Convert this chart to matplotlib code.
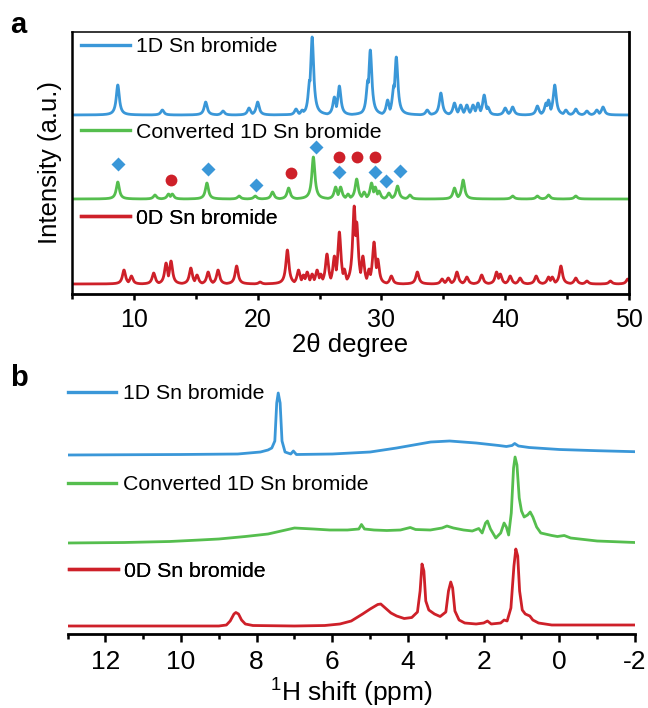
import numpy as np
import matplotlib.pyplot as plt
from matplotlib.lines import Line2D
from matplotlib.ticker import MultipleLocator

plt.rcParams['font.family'] = ['Liberation Sans', 'DejaVu Sans']
plt.rcParams['mathtext.fontset'] = 'custom'
plt.rcParams['mathtext.rm'] = 'Liberation Sans'
plt.rcParams['axes.unicode_minus'] = False

BLUE = '#3A97D8'
GREEN = '#55BE4E'
RED = '#CE2029'

# ===== (a) XRD: peak positions (2theta) and heights =====
BLUE_POS = [8.7, 12.3, 15.8, 17.2, 19.3, 20.0, 23.1, 23.6, 24.2, 24.4, 26.2, 26.6,
            28.9, 29.1, 30.5, 31.0, 31.2, 33.7, 34.8, 35.9, 36.4, 36.9, 37.4, 37.8,
            38.3, 38.6, 40.0, 40.6, 42.6, 43.3, 43.5, 44.0, 44.9, 45.7, 46.6, 47.4, 47.9]
BLUE_H = [30, 5, 13, 4, 7, 13, 6, 5, 35, 78, 18, 29,
          35, 65, 15, 30, 58, 5, 22, 12, 10, 10, 10, 12,
          20, 8, 7, 8, 9, 12, 15, 30, 5, 6, 4, 5, 8]

GREEN_POS = [8.7, 11.7, 12.8, 13.1, 15.9, 18.5, 19.8, 21.2, 22.5, 24.5, 26.3, 26.7,
             27.3, 28.0, 28.6, 29.2, 29.5, 29.8, 30.6, 31.3, 32.3, 35.9, 36.6,
             40.6, 42.6, 43.5, 45.7]
GREEN_H = [17, 4, 5, 5, 16, 3, 3, 7, 11, 42, 12, 12,
           5, 20, 7, 16, 12, 8, 6, 13, 4, 11, 19,
           3, 3, 4, 3]

RED_POS = [9.2, 9.8, 11.6, 12.6, 13.0, 14.6, 15.1, 16.0, 16.8, 18.3, 20.2, 22.4,
           23.3, 23.7, 24.0, 24.4, 24.8, 25.1, 25.6, 26.2, 26.6, 27.0, 27.8, 28.0,
           28.5, 29.0, 29.4, 29.7, 30.8, 32.9, 34.9, 35.4, 36.1, 36.9, 38.1, 39.3,
           39.6, 40.4, 41.2, 42.5, 43.5, 43.8, 44.5, 45.7, 46.6, 48.5, 49.9]
RED_H = [14, 8, 11, 21, 23, 16, 9, 12, 14, 18, 2, 34,
         14, 9, 12, 10, 14, 10, 30, 28, 52, 15, 78, 62,
         28, 15, 42, 25, 8, 12, 5, 6, 12, 7, 9, 12,
         10, 8, 6, 8, 7, 7, 18, 6, 3, 3, 5]

XRD_OFFSETS = {'red': 10, 'green': 95, 'blue': 179}

# marker positions above the converted pattern
DIAMOND_X = [8.7, 16.0, 19.9, 24.7, 26.6, 29.5, 30.4, 31.5]
DIAMOND_Y = [130, 125, 109, 147, 122, 122, 113, 123]
CIRCLE_X = [13.0, 22.7, 26.6, 28.0, 29.5]
CIRCLE_Y = [114, 121, 137, 137, 137]

# ===== (b) 1H NMR: (ppm, intensity) points =====
NMR_BLUE_PPM = [13.0, 10.0, 8.5, 7.9, 7.7, 7.6, 7.52, 7.47, 7.43, 7.38, 7.33, 7.25,
                7.1, 7.03, 6.95, 6.0, 5.0, 4.3, 3.4, 2.9, 2.2, 1.6, 1.4, 1.25, 1.18,
                1.08, 0.8, 0.0, -1.0, -2.0]
NMR_BLUE_I = [0, 0.5, 1, 3, 5, 7, 14, 52, 62, 52, 14, 3,
              1, 4, 0.5, 1, 3, 7, 13, 14, 12, 9.5, 8.5, 9.5, 11.5,
              9, 7.5, 5.5, 4.3, 3.3]

NMR_GREEN_PPM = [13.0, 11.5, 10.3, 9.5, 9.0, 8.3, 7.7, 7.0, 6.5, 6.07, 5.6, 5.3,
                 5.23, 5.15, 4.9, 4.56, 4.2, 3.94, 3.8, 3.41, 3.1, 2.97, 2.8, 2.53,
                 2.3, 2.13, 2.04, 1.95, 1.9, 1.82, 1.68, 1.55, 1.46, 1.4, 1.34, 1.27,
                 1.21, 1.17, 1.12, 1.06, 1.0, 0.93, 0.84, 0.77, 0.7, 0.6, 0.49, 0.2,
                 0.05, -0.13, -0.3, -1.0, -2.0]
NMR_GREEN_I = [0, 0.5, 1.5, 3, 4, 6.5, 9, 15, 14, 13, 13, 14,
               18.5, 14, 13, 12.5, 13, 15.5, 13.5, 13, 15, 17, 15, 13,
               12, 14.5, 10, 20, 22, 14, 5, 10, 20, 16, 8, 30,
               75, 86, 78, 45, 32, 26, 28, 31, 26, 16, 10, 7.5,
               6.5, 7.5, 5, 2, 0.5]

NMR_RED_PPM = [13.0, 9.0, 8.8, 8.7, 8.6, 8.55, 8.48, 8.4, 8.3, 8.1, 7.0, 6.2,
               5.8, 5.5, 5.2, 5.0, 4.8, 4.72, 4.6, 4.45, 4.3, 4.1, 3.9, 3.75,
               3.68, 3.63, 3.58, 3.53, 3.45, 3.3, 3.15, 3.0, 2.93, 2.87, 2.82, 2.76,
               2.65, 2.5, 2.2, 2.0, 1.9, 1.8, 1.55, 1.46, 1.38, 1.28, 1.2, 1.15,
               1.1, 1.05, 0.98, 0.9, 0.78, 0.7, 0.55, 0.2, -2.0]
NMR_RED_I = [0, 0, 1, 5, 12, 13.5, 12, 6, 2, 0.5, 0, 0.5,
             2, 5, 12, 17, 21.5, 22, 18, 13, 10, 7.5, 8.5, 14,
             35, 62, 55, 25, 16, 12, 9.5, 14, 35, 44, 38, 15,
             6, 3, 2, 3, 5, 2, 3, 6, 5, 18, 60, 77,
             70, 35, 16, 12, 10, 6, 3, 1, 1]

NMR_OFFSETS = {'red': 8, 'green': 91, 'blue': 179}

LEG_FS = 15.3


def xrd_profile(x, pos, height, hw=0.15):
    # sharp Lorentzian-shaped peaks on a flat baseline
    y = np.zeros_like(x)
    for p, h in zip(pos, height):
        y = np.maximum(y, h / (1 + ((x - p) / hw) ** 2))
    return y


def add_label(ax, color, text, x0, y0):
    h = Line2D([], [], color=color, lw=2.4)
    leg = ax.legend([h], [text], loc='center left', bbox_to_anchor=(x0, y0),
                    frameon=False, fontsize=LEG_FS, handlelength=2.3,
                    handletextpad=0.3, borderpad=0, borderaxespad=0)
    ax.add_artist(leg)


fig = plt.figure(figsize=(6.48, 7.08), dpi=100)

# ---------- panel a ----------
ax_a = fig.add_axes([72 / 648, 1 - 294 / 708, 557 / 648, 262 / 708])
tt = np.arange(5, 50.0001, 0.01)
for pos, hh, off, col in [(RED_POS, RED_H, XRD_OFFSETS['red'], RED),
                          (GREEN_POS, GREEN_H, XRD_OFFSETS['green'], GREEN),
                          (BLUE_POS, BLUE_H, XRD_OFFSETS['blue'], BLUE)]:
    ax_a.plot(tt, off + xrd_profile(tt, pos, hh), color=col, lw=2.0)

ax_a.plot(DIAMOND_X, DIAMOND_Y, 'D', color=BLUE, ms=7, mec='none')
ax_a.plot(CIRCLE_X, CIRCLE_Y, 'o', color=RED, ms=8.5, mec='none')

ax_a.set_xlim(5, 50)
ax_a.set_ylim(0, 262)
ax_a.set_yticks([])
ax_a.xaxis.set_major_locator(MultipleLocator(10))
ax_a.xaxis.set_minor_locator(MultipleLocator(5))
ax_a.tick_params(axis='x', which='major', direction='out', length=4, width=1.8,
                 labelsize=18, pad=6)
ax_a.tick_params(axis='x', which='minor', direction='out', length=3.5, width=1.8)
ax_a.tick_params(axis='x', which='both', top=False)
for side, lw in [('left', 1.8), ('bottom', 2.0), ('right', 2.0), ('top', 1.1)]:
    ax_a.spines[side].set_linewidth(lw)
ax_a.set_xlabel('2θ degree', fontsize=18.5, labelpad=1)
ax_a.set_ylabel('Intensity (a.u.)', fontsize=18.5, labelpad=7)

add_label(ax_a, BLUE, '1D Sn bromide', 0.016, 0.943)
add_label(ax_a, GREEN, 'Converted 1D Sn bromide', 0.016, 0.618)
add_label(ax_a, RED, '0D Sn bromide', 0.016, 0.290)

# ---------- panel b ----------
ax_b = fig.add_axes([67.5 / 648, 1 - 634 / 708, 567.5 / 648, 254 / 708])
for ppm, inten, off, col in [(NMR_RED_PPM, NMR_RED_I, NMR_OFFSETS['red'], RED),
                             (NMR_GREEN_PPM, NMR_GREEN_I, NMR_OFFSETS['green'], GREEN),
                             (NMR_BLUE_PPM, NMR_BLUE_I, NMR_OFFSETS['blue'], BLUE)]:
    ax_b.plot(ppm, np.array(inten) + off, color=col, lw=2.0)

ax_b.set_xlim(13, -2)
ax_b.set_ylim(0, 254)
ax_b.set_yticks([])
for side in ['left', 'right', 'top']:
    ax_b.spines[side].set_visible(False)
ax_b.spines['bottom'].set_linewidth(2.0)
ax_b.xaxis.set_major_locator(MultipleLocator(2))
ax_b.xaxis.set_minor_locator(MultipleLocator(1))
ax_b.tick_params(axis='x', which='major', direction='out', length=5.5, width=1.8,
                 labelsize=19, pad=6)
ax_b.tick_params(axis='x', which='minor', direction='out', length=3.5, width=1.8)
ax_b.set_xlabel(r'$^{1}$H shift (ppm)', fontsize=19, labelpad=1)

add_label(ax_b, BLUE, '1D Sn bromide', 0.0, 0.945)
add_label(ax_b, GREEN, 'Converted 1D Sn bromide', 0.0, 0.587)
add_label(ax_b, RED, '0D Sn bromide', 0.003, 0.248)

# panel letters
fig.text(10 / 648, 1 - 25 / 708, 'a', fontsize=21, fontweight='bold', va='center', ha='left')
fig.text(10 / 648, 1 - 378 / 708, 'b', fontsize=21, fontweight='bold', va='center', ha='left')

fig.savefig('out.png', dpi=100)
